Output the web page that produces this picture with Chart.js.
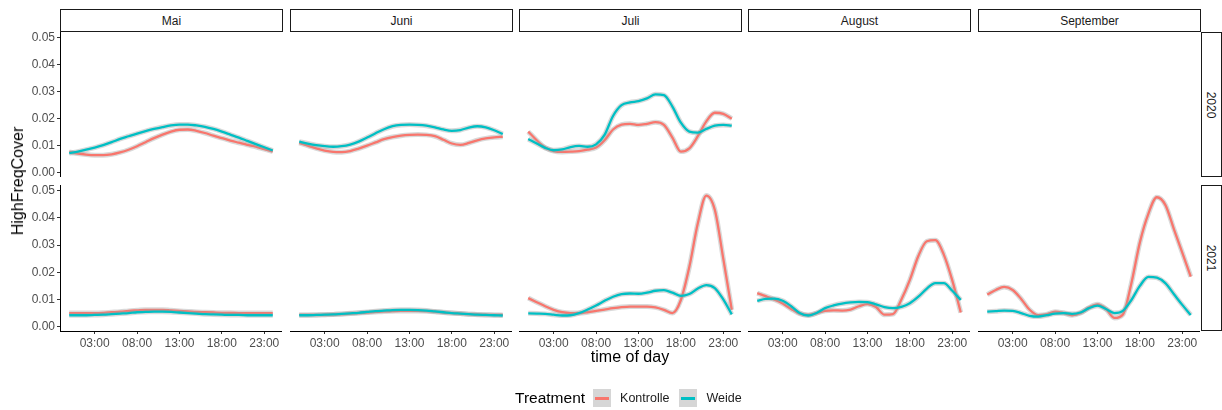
<!doctype html>
<html lang="de">
<head>
<meta charset="utf-8">
<title>HighFreqCover by time of day</title>
<script src="https://cdn.jsdelivr.net/npm/chart.js@4.4.0/dist/chart.umd.min.js"></script>
<style>
  body { margin: 0; background: #fff; font-family: "Liberation Sans", Arial, sans-serif; }
  #plot { position: relative; width: 1222px; height: 410px; overflow: hidden; background: #fff; }
  #plot canvas { position: absolute; }
  .strip { position: absolute; box-sizing: border-box; border: 1px solid #1a1a1a; background: #fff;
           font-size: 12px; color: #1a1a1a; display: flex; align-items: center; justify-content: center; }
  .strip.side span { transform: rotate(90deg); white-space: nowrap; }
  .title { position: absolute; font-size: 16px; color: #000; white-space: nowrap; }
  .legend { position: absolute; top: 387px; left: 515px; height: 22px; display: flex; align-items: center; }
  .legend .lt { font-size: 15.5px; margin-right: 8px; }
  .legend .key { width: 18px; height: 18px; background: #d6d6d6; position: relative; margin-right: 9px; }
  .legend .key i { position: absolute; left: 2px; right: 2px; top: 8px; height: 2.5px; }
  .legend .lab { font-size: 12.5px; color: #1a1a1a; margin-right: 10px; }
</style>
</head>
<body>
<div id="plot"></div>
<script>
// facets
const months = ['Mai', 'Juni', 'Juli', 'August', 'September'];
const years = ['2020', '2021'];
const treatments = ['Kontrolle', 'Weide'];
const colors = ['#F8766D', '#00BFC4'];

// x: hour of day, ticks
const hours = [0,1,2,3,4,5,6,7,8,9,10,11,12,13,14,15,16,17,18,19,20,21,22,23,24];
const tickHours = [3, 8, 13, 18, 23];
const tickLabels = ['03:00', '08:00', '13:00', '18:00', '23:00'];
const yTicks = [0, 0.01, 0.02, 0.03, 0.04, 0.05];

// smoothed HighFreqCover, one value per hour
const mai2020Kontrolle = [0.0077,0.0071,0.0067,0.0065,0.0065,0.0068,0.0075,0.0085,0.0098,0.0113,0.0128,0.0141,0.0152,0.0159,0.0160,0.0155,0.0147,0.0137,0.0128,0.0119,0.0111,0.0103,0.0096,0.0087,0.0078];
const mai2020Weide     = [0.0072,0.0078,0.0085,0.0093,0.0102,0.0113,0.0125,0.0135,0.0145,0.0154,0.0162,0.0169,0.0175,0.0178,0.0178,0.0175,0.0170,0.0162,0.0152,0.0141,0.0130,0.0118,0.0106,0.0094,0.0082];
const mai2021Kontrolle = [0.0050,0.0050,0.0050,0.0050,0.0051,0.0053,0.0055,0.0058,0.0060,0.0062,0.0062,0.0062,0.0060,0.0058,0.0056,0.0054,0.0053,0.0052,0.0051,0.0051,0.0050,0.0050,0.0050,0.0050,0.0050];
const mai2021Weide     = [0.0042,0.0042,0.0042,0.0043,0.0044,0.0046,0.0048,0.0050,0.0053,0.0054,0.0055,0.0055,0.0054,0.0052,0.0050,0.0048,0.0046,0.0045,0.0044,0.0043,0.0043,0.0042,0.0042,0.0042,0.0042];

const juni2020Kontrolle = [0.0110,0.0100,0.0090,0.0082,0.0077,0.0076,0.0080,0.0089,0.0100,0.0112,0.0124,0.0132,0.0137,0.0140,0.0141,0.0140,0.0135,0.0122,0.0108,0.0103,0.0110,0.0120,0.0127,0.0131,0.0133];
const juni2020Weide     = [0.0115,0.0108,0.0102,0.0098,0.0096,0.0098,0.0104,0.0115,0.0130,0.0146,0.0161,0.0172,0.0177,0.0178,0.0177,0.0174,0.0168,0.0160,0.0155,0.0158,0.0167,0.0172,0.0168,0.0157,0.0143];
const juni2021Kontrolle = [0.0043,0.0043,0.0043,0.0044,0.0045,0.0046,0.0048,0.0050,0.0052,0.0054,0.0056,0.0057,0.0058,0.0058,0.0058,0.0057,0.0055,0.0052,0.0050,0.0048,0.0046,0.0045,0.0044,0.0043,0.0043];
const juni2021Weide     = [0.0042,0.0042,0.0043,0.0044,0.0045,0.0047,0.0049,0.0051,0.0054,0.0057,0.0059,0.0061,0.0062,0.0062,0.0061,0.0059,0.0056,0.0053,0.0050,0.0048,0.0046,0.0044,0.0043,0.0042,0.0041];

const juli2020Kontrolle = [0.0152,0.0120,0.0093,0.0080,0.0077,0.0078,0.0080,0.0085,0.0093,0.0120,0.0160,0.0178,0.0181,0.0177,0.0181,0.0187,0.0177,0.0130,0.0078,0.0090,0.0135,0.0190,0.0222,0.0218,0.0200];
const juli2020Weide     = [0.0125,0.0108,0.0092,0.0083,0.0086,0.0095,0.0099,0.0096,0.0105,0.0140,0.0210,0.0250,0.0260,0.0265,0.0275,0.0290,0.0287,0.0245,0.0185,0.0152,0.0148,0.0162,0.0174,0.0177,0.0174];
const juli2021Kontrolle = [0.0105,0.0090,0.0075,0.0062,0.0053,0.0050,0.0050,0.0053,0.0058,0.0063,0.0068,0.0072,0.0074,0.0074,0.0074,0.0071,0.0062,0.0050,0.0098,0.0220,0.0380,0.0482,0.0430,0.0250,0.0062];
const juli2021Weide     = [0.0049,0.0048,0.0047,0.0044,0.0041,0.0042,0.0050,0.0063,0.0078,0.0095,0.0110,0.0120,0.0122,0.0121,0.0125,0.0132,0.0134,0.0125,0.0113,0.0120,0.0140,0.0153,0.0142,0.0100,0.0045];

const august2020Kontrolle = [];
const august2020Weide     = [];
const august2021Kontrolle = [0.0123,0.0112,0.0100,0.0085,0.0065,0.0048,0.0043,0.0050,0.0058,0.0060,0.0059,0.0063,0.0075,0.0083,0.0072,0.0044,0.0046,0.0100,0.0172,0.0260,0.0314,0.0318,0.0265,0.0170,0.0052];
const august2021Weide     = [0.0095,0.0102,0.0103,0.0095,0.0075,0.0050,0.0041,0.0050,0.0068,0.0078,0.0085,0.0089,0.0091,0.0090,0.0082,0.0072,0.0068,0.0073,0.0086,0.0110,0.0140,0.0160,0.0160,0.0132,0.0098];

const september2020Kontrolle = [];
const september2020Weide     = [];
const september2021Kontrolle = [0.0118,0.0135,0.0146,0.0135,0.0102,0.0062,0.0042,0.0045,0.0055,0.0050,0.0042,0.0050,0.0070,0.0082,0.0065,0.0032,0.0045,0.0160,0.0310,0.0415,0.0476,0.0448,0.0360,0.0272,0.0184];
const september2021Weide     = [0.0055,0.0057,0.0059,0.0058,0.0050,0.0040,0.0037,0.0042,0.0048,0.0050,0.0047,0.0052,0.0068,0.0077,0.0065,0.0050,0.0058,0.0098,0.0150,0.0183,0.0180,0.0160,0.0120,0.0080,0.0043];

const panelData = [
  [[mai2020Kontrolle, mai2020Weide], [mai2021Kontrolle, mai2021Weide]],
  [[juni2020Kontrolle, juni2020Weide], [juni2021Kontrolle, juni2021Weide]],
  [[juli2020Kontrolle, juli2020Weide], [juli2021Kontrolle, juli2021Weide]],
  [[august2020Kontrolle, august2020Weide], [august2021Kontrolle, august2021Weide]],
  [[september2020Kontrolle, september2020Weide], [september2021Kontrolle, september2021Weide]],
];

// layout (px)
const colLeft = [60, 290, 519, 748, 978];
const panelW = 222;
const rowTop = [32, 185];
const panelH = [145, 146];
const yAxisW = 60;
const xAxisH = 24;

const plot = document.getElementById('plot');

function addDiv(cls, css, html) {
  const d = document.createElement('div');
  d.className = cls;
  Object.assign(d.style, css);
  d.innerHTML = html;
  plot.appendChild(d);
  return d;
}

months.forEach((m, c) => {
  addDiv('strip', { left: colLeft[c] + 'px', top: '9px', width: (panelW + 1) + 'px', height: '23px' }, m);
});
years.forEach((y, r) => {
  addDiv('strip side', { left: '1201px', top: rowTop[r] + 'px', width: '21px', height: (panelH[r]) + 'px' }, '<span>' + y + '</span>');
});

const tickFont = { family: '"Liberation Sans", Arial, sans-serif', size: 12 };

// keep the panel area fixed: no extra room for overhanging tick labels
function noPad(s) {
  s.paddingTop = 0; s.paddingBottom = 0; s.paddingLeft = 0; s.paddingRight = 0;
}

months.forEach((m, c) => {
  years.forEach((yr, r) => {
    const isLeft = c === 0;
    const isBottom = r === 1;
    const cv = document.createElement('canvas');
    const left = isLeft ? 0 : colLeft[c];
    const w = panelW + (isLeft ? yAxisW : 0);
    const h = panelH[r] + (isBottom ? xAxisH : 0);
    cv.width = w;
    cv.height = h;
    cv.style.left = left + 'px';
    cv.style.top = rowTop[r] + 'px';
    cv.style.width = w + 'px';
    cv.style.height = h + 'px';
    plot.appendChild(cv);

    const datasets = [];
    treatments.forEach((t, i) => {
      const vals = panelData[c][r][i];
      const pts = vals.map((v, k) => ({ x: hours[k], y: v }));
      // grey band (confidence ribbon look) under each line
      datasets.push({
        label: t + ' se', data: pts, borderColor: 'rgba(160,160,160,0.4)', borderWidth: 5,
        pointRadius: 0, cubicInterpolationMode: 'monotone', order: 10 - i * 4, fill: false
      });
      datasets.push({
        label: t, data: pts, borderColor: colors[i], borderWidth: 2.3,
        pointRadius: 0, cubicInterpolationMode: 'monotone', order: 9 - i * 4, fill: false
      });
    });

    new Chart(cv, {
      type: 'line',
      data: { datasets: datasets },
      options: {
        responsive: false,
        animation: false,
        events: [],
        layout: { padding: 0 },
        plugins: { legend: { display: false }, tooltip: { enabled: false } },
        scales: {
          x: {
            type: 'linear', min: -1.09, max: 25.09, display: isBottom,
            grid: { display: true, drawOnChartArea: false, drawTicks: true, tickLength: 3, color: '#333' },
            border: { display: true, color: '#000', width: 1 },
            ticks: { font: tickFont, color: '#4d4d4d', padding: 2, maxRotation: 0, autoSkip: false,
                     callback: (v) => tickLabels[tickHours.indexOf(v)] },
            afterBuildTicks: (s) => { s.ticks = tickHours.map(v => ({ value: v })); },
            afterFit: (s) => { s.height = isBottom ? xAxisH : 0; noPad(s); }
          },
          y: {
            type: 'linear', min: -0.0016, max: 0.0521, display: isLeft,
            grid: { display: true, drawOnChartArea: false, drawTicks: true, tickLength: 3, color: '#333' },
            border: { display: true, color: '#000', width: 1 },
            ticks: { font: tickFont, color: '#4d4d4d', padding: 2, callback: (v) => v.toFixed(2) },
            afterBuildTicks: (s) => { s.ticks = yTicks.map(v => ({ value: v })); },
            afterFit: (s) => { s.width = isLeft ? yAxisW : 0; noPad(s); }
          }
        }
      }
    });
  });
});

// axis titles
addDiv('title', { left: '18px', top: '181px', transform: 'translate(-50%,-50%) rotate(-90deg)' }, 'HighFreqCover');
addDiv('title', { left: '630px', top: '357px', transform: 'translate(-50%,-50%)' }, 'time of day');

// legend
let lg = '<span class="lt">Treatment</span>';
treatments.forEach((t, i) => {
  lg += '<span class="key"><i style="background:' + colors[i] + '"></i></span><span class="lab">' + t + '</span>';
});
addDiv('legend', {}, lg);
</script>
</body>
</html>
